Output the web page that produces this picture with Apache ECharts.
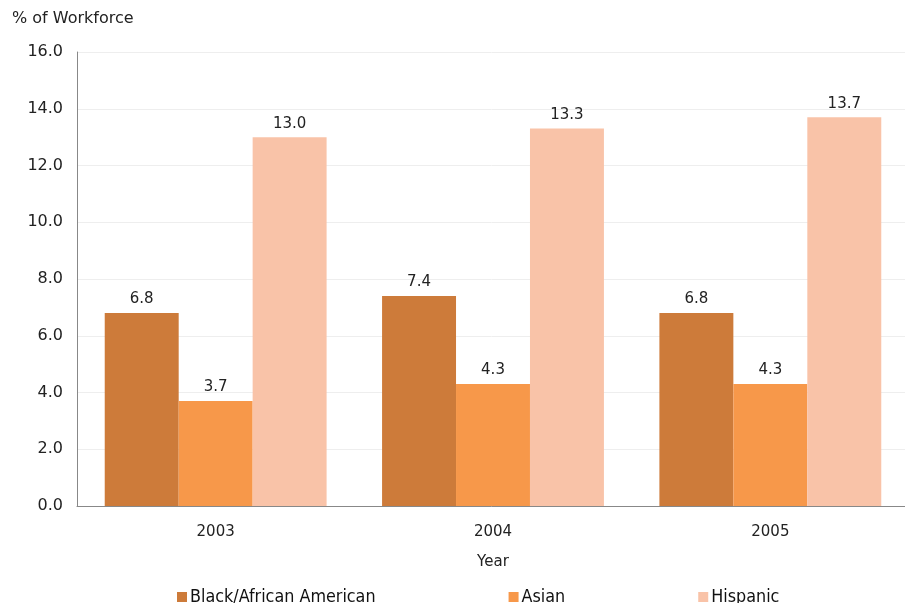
<!DOCTYPE html>
<html>
<head>
<meta charset="utf-8">
<script src="https://cdn.jsdelivr.net/npm/echarts@6/dist/echarts.min.js"></script>
<style>
  html, body { margin: 0; padding: 0; background: #fff; }
  #chart { width: 905px; height: 603px; }
</style>
</head>
<body>
<div id="chart"></div>
<script>
const years = ['2003', '2004', '2005']
const black = [6.8, 7.4, 6.8]
const asian = [3.7, 4.3, 4.3]
const hispanic = [13.0, 13.3, 13.7]

const chart = echarts.init(document.getElementById('chart'))

const labelStyle = {
  show: true,
  position: 'top',
  distance: 6,
  color: '#222',
  fontFamily: 'DejaVu Sans',
  fontSize: 15,
  formatter: (p) => p.value.toFixed(1)
}

const option = {
  animation: false,
  textStyle: { fontFamily: 'DejaVu Sans' },
  grid: { left: 77, width: 832, top: 52, bottom: 97, outerBoundsMode: 'none' },
  legend: {
    bottom: -8,
    left: 172,
    itemGap: 133,
    icon: 'rect',
    itemWidth: 10,
    itemHeight: 10,
    textStyle: { fontFamily: 'DejaVu Sans Condensed, Liberation Sans', fontSize: 17.8, color: '#111', padding: [0, 0, 0, -2] },
    data: ['Black/African American', 'Asian', 'Hispanic']
  },
  xAxis: {
    type: 'category',
    data: years,
    name: 'Year',
    nameLocation: 'middle',
    nameGap: 49,
    nameTextStyle: { color: '#222', fontSize: 15 },
    axisLine: { lineStyle: { color: '#888' } },
    axisTick: { show: false },
    axisLabel: { color: '#222', fontSize: 15, margin: 19 }
  },
  yAxis: {
    type: 'value',
    min: 0,
    max: 16,
    interval: 2,
    name: '% of Workforce',
    nameLocation: 'end',
    nameGap: 25,
    nameTextStyle: { color: '#222', fontSize: 16, align: 'left', padding: [0, 0, 0, -65] },
    axisLine: { show: true, lineStyle: { color: '#888' } },
    axisTick: { show: false },
    axisLabel: { color: '#222', fontSize: 16, margin: 14, formatter: (v) => v.toFixed(1) },
    splitLine: { lineStyle: { color: '#eeeeee' } }
  },
  series: [
    {
      name: 'Black/African American',
      type: 'bar',
      data: black,
      barGap: '0%',
      barCategoryGap: '20%',
      itemStyle: { color: '#CD7B3A' },
      label: labelStyle
    },
    {
      name: 'Asian',
      type: 'bar',
      data: asian,
      itemStyle: { color: '#F7984A' },
      label: labelStyle
    },
    {
      name: 'Hispanic',
      type: 'bar',
      data: hispanic,
      itemStyle: { color: '#F9C3A8' },
      label: labelStyle
    }
  ]
}

chart.setOption(option)
</script>
</body>
</html>
